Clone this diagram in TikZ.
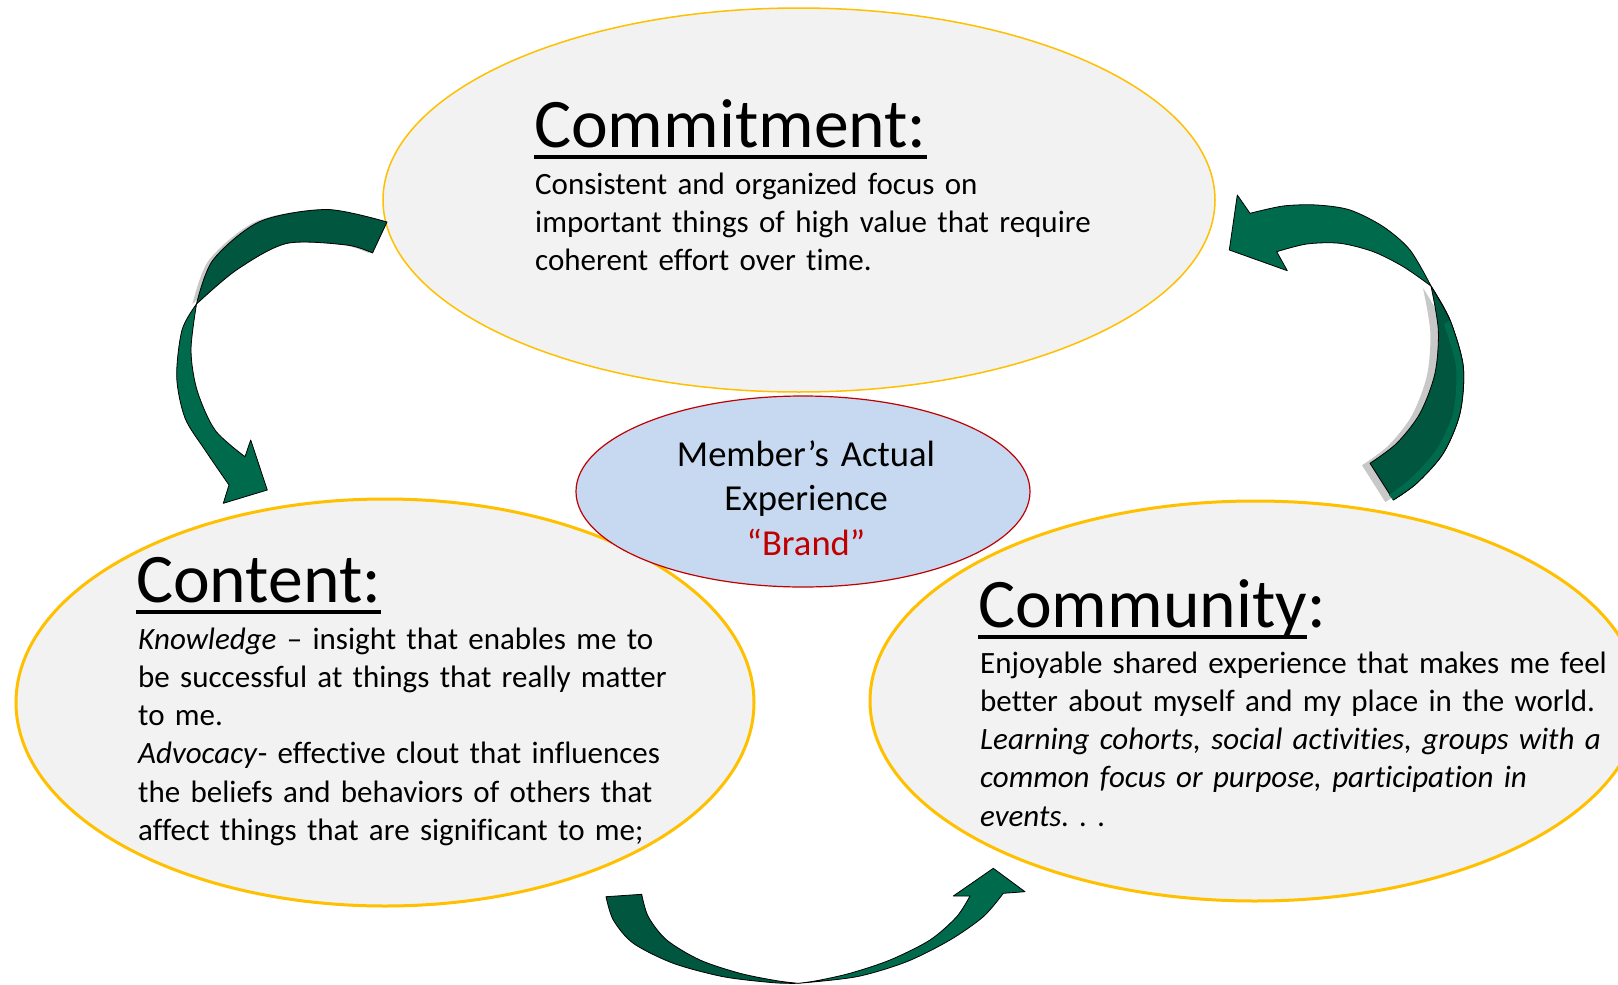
\documentclass[tikz,border=0pt]{standalone}
\usepackage{fontspec}
\setmainfont{Carlito}[Ligatures=NoCommon]
\usetikzlibrary{shapes.geometric}
\definecolor{ellfill}{RGB}{242,242,242}
\definecolor{gold}{RGB}{255,192,0}
\definecolor{memfill}{RGB}{198,217,240}
\definecolor{brandred}{RGB}{192,0,0}
\definecolor{grdark}{RGB}{0,86,62}
\definecolor{grlight}{RGB}{0,106,77}
\definecolor{shadowgrey}{RGB}{200,200,200}
\newcommand\myul[1]{\setbox0\hbox{#1}\rlap{\rule[-12pt]{\wd0}{4pt}}\box0}
\frenchspacing
\tikzset{
  ell/.style={ellipse, draw=gold, fill=ellfill, line width=3pt, inner sep=0pt},
  memell/.style={ellipse, draw=brandred, fill=memfill, line width=1.2pt, inner sep=0pt},
  titletext/.style={inner sep=0pt, anchor=base west, font=\fontsize{69.6}{80}\selectfont},
  bodytext/.style={inner sep=0pt, anchor=base west, text width=700pt, align=left, font=\fontsize{31}{38.3}\selectfont},
  bandd/.style={fill=grdark, draw=black, line width=0.8pt, line join=round},
  bandl/.style={fill=grlight, draw=black, line width=0.8pt, line join=round},
  shade/.style={fill=shadowgrey, draw=none},
}
\begin{document}
\begin{tikzpicture}[x=1pt,y=-1pt]
\useasboundingbox (0,0) rectangle (1618,985);
\clip (0,0) rectangle (1618,985);
\fill[white] (0,0) rectangle (1618,985);

% ellipses
\node[ell, line width=1.5pt, minimum width=832pt, minimum height=384pt] (commit) at (799,200) {};
\node[ell, minimum width=738pt, minimum height=407pt] (content) at (385,702.5) {};
\node[ell, minimum width=770pt, minimum height=400pt] (community) at (1255,701) {};
\node[memell, minimum width=454pt, minimum height=191pt] (member) at (803,491.5) {};

% texts
\node[titletext] (committitle) at (534,147) {\myul{Commitment:}};
\node[bodytext] (commitbody) at (535,194) {Consistent and organized focus on\\important things of high value that require\\coherent effort over time.};

\node[titletext] (contenttitle) at (136,602) {\myul{Content:}};
\node[bodytext] (contentbody) at (138,649) {\textit{Knowledge} – insight that enables me to\\be successful at things that really matter\\to me.\\\textit{Advocacy}- effective clout that influences\\the beliefs and behaviors of others that\\affect things that are significant to me;};

\node[titletext] (communitytitle) at (978,627) {\myul{Community}:};
\node[bodytext] (communitybody) at (980,673) {Enjoyable shared experience that makes me feel\\better about myself and my place in the world.\\\textit{Learning cohorts, social activities, groups with a\\common focus or purpose, participation in\\events. . .}};

\node[inner sep=0pt, anchor=base, text width=400pt, align=center, font=\fontsize{36.6}{44.6}\selectfont] (memtext) at (806,466) {Member’s Actual\\Experience\\\textcolor{brandred}{“Brand”}};

% arrow 1 : commitment -> content
\path[shade, xshift=-4pt] plot[smooth] coordinates {(387,222) (327,209.5) (260,221.5) (213,260) (196.5,304)} -- plot[smooth] coordinates {(196.5,304) (236.5,270) (286.5,243.5) (346.5,245) (372.5,253)} -- cycle;
\path[bandd] plot[smooth] coordinates {(387,222) (327,209.5) (260,221.5) (213,260) (196.5,304)} -- plot[smooth] coordinates {(196.5,304) (236.5,270) (286.5,243.5) (346.5,245) (372.5,253)} -- cycle;
\path[bandl] plot[smooth] coordinates {(196.5,304) (182,330) (176.7,377) (185,418) (205,450) (229,485)} -- (223.3,503.3) -- (267.3,490) -- (250.7,440) -- plot[smooth] coordinates {(245,456.7) (215,430) (197,390) (191,350) (196.5,304)} -- cycle;

% arrow 2 : community -> commitment
\path[bandl] (1250,213.3) -- (1237.3,195) -- (1229.3,250) -- (1287.3,270.7) -- plot[smooth] coordinates {(1276.7,251.7) (1306.7,244) (1340,243.3) (1373.3,251.7) (1403.3,266.7) (1431,286)} -- plot[smooth] coordinates {(1431,286) (1410,250) (1383.3,226.7) (1350,210) (1316.7,205) (1283.3,206) (1250,213.3)} -- cycle;
\path[shade, xshift=-8pt, yshift=-2pt] plot[smooth] coordinates {(1431,286) (1450,320) (1463.3,366.7) (1460,413.3) (1443.3,453.3) (1416.7,483.3) (1393.3,500)} -- plot[smooth] coordinates {(1370,463.3) (1396.7,443.3) (1420,413.3) (1435,373.3) (1438.3,330) (1431,286)} -- cycle;
\path[bandd] plot[smooth] coordinates {(1431,286) (1450,320) (1463.3,366.7) (1460,413.3) (1443.3,453.3) (1416.7,483.3) (1393.3,500)} -- plot[smooth] coordinates {(1370,463.3) (1396.7,443.3) (1420,413.3) (1435,373.3) (1438.3,330) (1431,286)} -- cycle;
\path[fill=grlight] plot[smooth] coordinates {(1450,320) (1463.3,366.7) (1460,413.3) (1443.3,453.3) (1416.7,483.3) (1393.3,500)} -- plot[smooth] coordinates {(1389,495) (1411,478) (1436,450) (1453,413) (1456,367) (1444,324)} -- cycle;
\draw[black, line width=0.8pt] plot[smooth] coordinates {(1431,286) (1450,320) (1463.3,366.7) (1460,413.3) (1443.3,453.3) (1416.7,483.3) (1393.3,500)};

% arrow 3 : content -> community
\path[bandd] plot[smooth] coordinates {(606,896.7) (613.3,920) (633.3,943.3) (673.3,963.3) (723.3,976.7) (773.3,982.7) (798.3,983.3)} -- plot[smooth] coordinates {(798.3,983.3) (776.7,980.7) (740,973.3) (700,960) (666.7,940) (648.3,916.7) (641.7,894.3)} -- cycle;
\path[bandl] plot[smooth] coordinates {(798.3,983.3) (856.7,976.7) (906.7,961.7) (950,940) (983.3,916.7) (1003.3,893.3)} -- (1025,891.7) -- (993.3,868.3) -- (953.3,896) -- plot[smooth] coordinates {(970,896) (956.7,916.7) (930,940) (890,960) (850,973.3) (816.7,980.7) (798.3,983.3)} -- cycle;
\end{tikzpicture}
\end{document}
